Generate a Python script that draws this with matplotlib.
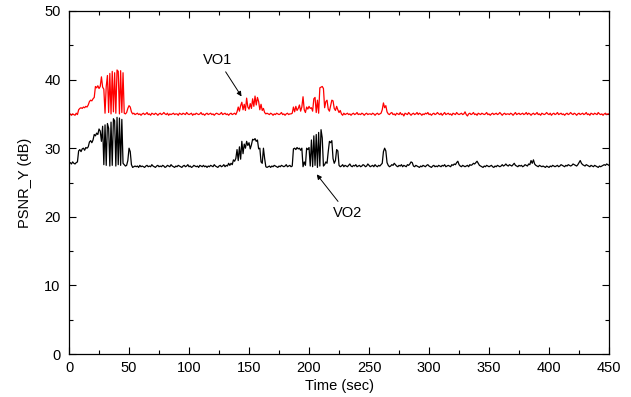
import numpy as np
import matplotlib
matplotlib.use("Agg")
import matplotlib.pyplot as plt

plt.rcParams['font.family'] = ['Liberation Sans', 'DejaVu Sans']

# PSNR of the Y component per second, object VO1 (red)
vo1_psnr = [
    34.9, 35.0, 34.8, 35.0, 34.9, 34.8, 35.1, 34.9, 35.6, 35.8,
    35.9, 35.8, 36.0, 35.9, 36.1, 36.0, 36.3, 36.8, 37.0, 36.9,
    37.2, 37.4, 39.0, 38.8, 39.1, 38.7, 39.0, 40.4, 38.9, 38.6,
    35.1, 39.0, 40.6, 35.2, 40.9, 35.0, 41.2, 35.3, 41.0, 35.1,
    41.4, 41.2, 35.0, 41.3, 35.2, 41.0, 35.1, 35.0, 35.2, 35.8,
    36.2, 36.0, 35.3, 35.0, 35.1, 34.9,
    35.0, 35.1, 34.9, 35.0, 34.8, 35.0, 35.1, 34.9, 35.0, 35.2,
    34.9, 35.0, 34.8, 35.1, 35.0, 34.9, 35.1, 35.0, 34.8, 35.0,
    35.1, 34.9, 35.0, 35.2, 35.0, 34.9, 35.1, 34.8, 35.0, 34.9,
    35.0, 35.1, 34.9, 35.0, 35.0, 34.8, 35.1, 35.0, 34.9, 35.1,
    35.0, 34.9, 35.2, 35.0, 34.9, 35.0, 35.1, 34.8, 35.0, 34.9,
    35.1, 35.0, 34.9, 35.0, 35.2, 34.9, 35.0, 34.8, 35.0, 35.1,
    34.9, 35.0, 35.1, 34.9, 35.0, 34.8, 35.0, 35.1, 35.0, 34.9,
    35.0, 35.2, 34.9, 35.0, 35.1, 34.9, 35.0, 34.8, 35.0, 35.1,
    34.9, 35.0, 35.1, 34.9,
    35.3, 36.0, 35.4, 36.2, 36.7, 35.6, 36.4, 35.5, 37.3, 36.0,
    35.7, 36.5, 35.8, 37.2, 36.1, 37.6, 36.3, 37.4, 36.8, 35.6,
    36.4, 35.5, 35.8, 35.2, 35.0, 35.1,
    35.0, 34.9, 35.1, 35.0, 34.8, 35.0, 34.9, 35.1, 35.0, 34.9,
    35.0, 35.2, 34.9, 35.0, 34.8, 35.0, 35.1, 34.9, 35.0, 35.0,
    35.1, 36.0, 35.3, 36.1, 35.5, 35.8, 36.3, 35.4, 36.0, 37.5,
    35.6, 35.2, 36.0, 35.7, 36.1, 35.8, 35.9, 35.4, 37.2, 37.4,
    35.2, 37.0, 35.1, 38.8, 38.9, 39.0, 38.7, 35.9, 36.8, 37.0,
    35.7, 35.4, 36.2, 37.0, 36.9, 35.8, 35.5, 36.1, 35.6, 35.2,
    35.5, 35.0, 34.8, 35.1, 34.9,
    35.0, 35.1, 34.9, 35.0, 34.8, 35.0, 35.1, 34.9, 35.0, 35.2,
    34.9, 35.0, 34.9, 35.1, 35.0, 34.8, 35.0, 35.1, 34.9, 35.0,
    35.0, 34.9, 35.1, 35.0, 34.8, 35.0, 35.1, 34.9, 35.0, 35.1,
    35.6, 36.6, 35.9, 36.2, 35.3,
    35.0, 34.9, 35.1, 35.2, 34.9, 35.0, 34.8, 35.1, 35.0, 34.9,
    35.2, 34.9, 35.0, 34.7, 35.1, 35.0, 34.9, 35.2, 35.0, 34.8,
    35.0, 35.1, 34.9, 35.0, 35.2, 34.9, 35.1, 35.0, 34.8, 35.0,
    34.9, 35.1, 35.0, 35.2, 34.9, 35.0, 34.8, 35.0, 35.1, 34.9,
    35.0, 35.2, 35.0, 34.9, 35.1, 34.8, 35.0, 35.2, 34.9, 35.0,
    35.1, 34.9, 35.0, 34.8, 35.1, 35.0, 34.9, 35.2, 35.0, 34.9,
    35.0, 35.1, 34.9, 35.0, 35.3, 34.9, 34.7, 35.0, 35.1, 34.9,
    35.0, 35.2, 34.9, 35.0, 34.8, 35.1, 35.0, 34.9, 35.1, 35.0,
    34.9, 35.0, 35.2, 34.9, 35.0, 34.8, 35.0, 35.1, 34.9, 35.0,
    35.1, 34.9, 35.0, 35.2, 35.0, 34.8, 35.0, 35.1, 34.9, 35.0,
    35.0, 34.9, 35.1, 35.0, 34.8, 35.0, 35.2, 34.9, 35.0, 35.1,
    34.9, 35.0, 35.1, 34.9, 35.0, 35.2, 34.9, 35.1, 35.0, 34.8,
    35.0, 35.1, 34.9, 35.0, 35.2, 34.9, 35.0, 34.8, 35.1, 35.0,
    34.9, 35.0, 35.2, 35.0, 34.9, 35.1, 34.8, 35.0, 35.1, 34.9,
    35.0, 35.2, 34.9, 35.0, 35.1, 34.9, 35.0, 34.8, 35.0, 35.1,
    34.9, 35.0, 35.2, 35.0, 34.9, 35.1, 35.0, 34.8, 35.0, 35.1,
    34.9, 35.0, 35.1, 34.9, 35.0, 35.2, 34.9, 35.0, 34.8, 35.1,
    35.0, 34.9, 35.1, 35.0, 34.9, 35.2, 35.0, 34.9, 35.0, 34.8,
    35.0, 35.1, 34.9, 35.0, 35.0,
]

# same for object VO2 (black)
vo2_psnr = [
    27.8, 27.9, 27.7, 28.0, 27.8, 27.7, 27.9, 28.0, 29.6, 29.8,
    29.5, 29.9, 30.0, 29.7, 30.1, 30.0, 30.2, 30.9, 31.1, 30.8,
    31.2, 32.0, 31.8, 32.2, 32.0, 32.8, 32.5, 31.0, 33.2, 27.6,
    33.4, 27.5, 33.6, 32.9, 27.4, 33.8, 27.5, 34.3, 34.0, 27.4,
    34.5, 27.6, 34.4, 27.5, 34.2, 27.8, 27.6, 27.4, 27.5, 28.2,
    30.0, 29.5, 27.6, 27.2, 27.3, 27.4,
    27.3, 27.4, 27.2, 27.5, 27.3, 27.4, 27.3, 27.2, 27.4, 27.5,
    27.3, 27.4, 27.3, 27.6, 27.4, 27.3, 27.2, 27.4, 27.5, 27.3,
    27.4, 27.3, 27.5, 27.4, 27.2, 27.3, 27.5, 27.4, 27.3, 27.6,
    27.4, 27.3, 27.2, 27.4, 27.3, 27.5, 27.4, 27.3, 27.2, 27.4,
    27.5, 27.3, 27.4, 27.6, 27.3, 27.4, 27.2, 27.3, 27.5, 27.4,
    27.3, 27.4, 27.2, 27.5, 27.4, 27.3, 27.5, 27.3, 27.4, 27.2,
    27.4, 27.3, 27.5, 27.4, 27.3, 27.6, 27.4, 27.3, 27.2, 27.4,
    27.5, 27.3, 27.4, 27.6, 27.3, 27.5, 27.4, 27.8,
    27.5, 27.8, 27.6, 28.3, 28.1, 28.5, 29.8, 28.2, 30.2, 28.4,
    31.0, 29.2, 30.6, 30.0, 31.0, 30.4, 30.8, 29.9, 30.5, 31.3,
    31.2, 31.4, 31.0, 31.2, 29.9, 30.0, 28.0, 27.8, 30.0, 28.5,
    27.3, 27.2,
    27.3, 27.4, 27.2, 27.4, 27.3, 27.5, 27.4, 27.3, 27.2, 27.4,
    27.3, 27.5, 27.4, 27.3, 27.4, 27.6, 27.3, 27.4, 27.5, 27.3,
    27.4, 29.9, 30.0, 29.8, 30.1, 29.9, 30.0, 29.7, 30.0, 27.3,
    28.0, 27.5, 30.0, 29.8, 30.1, 27.4, 31.2, 27.3, 31.8, 27.5,
    32.0, 27.2, 32.3, 27.4, 32.7, 31.5, 27.4, 27.6, 28.0, 27.8,
    29.5, 31.0, 30.8, 31.1, 28.5, 27.8, 28.2, 29.8, 29.6, 27.5,
    27.3,
    27.4, 27.6, 27.3, 27.5, 27.4, 27.3, 27.5, 27.7, 27.4, 27.3,
    27.5, 27.4, 27.6, 27.3, 27.4, 27.5, 27.3, 27.4, 27.6, 27.5,
    27.3, 27.4, 27.7, 27.5, 27.3, 27.4, 27.5, 27.3, 27.6, 27.4,
    27.3, 27.5, 27.4, 27.6,
    27.8, 29.5, 30.0, 29.6, 27.9,
    27.5, 27.3, 27.4, 27.6, 27.5, 27.8, 27.6, 27.4, 27.3, 27.5,
    27.4, 27.6, 27.3, 27.5, 27.4, 27.3, 27.6, 27.5, 27.7, 28.0,
    27.9, 27.4, 27.3, 27.5, 27.4, 27.3, 27.2, 27.4, 27.3, 27.5,
    27.4, 27.3, 27.5, 27.6, 27.4, 27.3, 27.2, 27.4, 27.5, 27.3,
    27.4, 27.3, 27.5, 27.4, 27.3, 27.5, 27.4, 27.6, 27.3, 27.4,
    27.5, 27.4, 27.3, 27.6, 27.5, 27.7, 27.6, 27.9, 28.1, 27.6,
    27.4, 27.3, 27.5, 27.4, 27.3, 27.4, 27.5, 27.3, 27.6, 27.5,
    27.6, 27.8, 27.7, 27.9, 28.1, 27.8, 27.5, 27.4, 27.3, 27.2,
    27.4, 27.3, 27.5, 27.4, 27.3, 27.4, 27.5, 27.3, 27.2, 27.4,
    27.3, 27.5, 27.4, 27.3, 27.4, 27.6, 27.4, 27.5, 27.7, 27.5,
    27.4, 27.6, 27.5, 27.4, 27.6, 27.8, 27.5, 27.4, 27.3, 27.5,
    27.4, 27.5, 27.3, 27.4, 27.6, 27.5, 27.4, 27.7, 27.6, 28.2,
    27.8, 28.3, 27.7, 27.5, 27.4, 27.3, 27.5, 27.4, 27.3, 27.4,
    27.3, 27.2, 27.4, 27.3, 27.2, 27.4, 27.3, 27.5, 27.4, 27.3,
    27.4, 27.5, 27.3, 27.4, 27.6, 27.5, 27.4, 27.3, 27.5, 27.4,
    27.6, 27.5, 27.4, 27.5, 27.7, 27.6, 27.5, 27.4, 27.6, 27.9,
    28.2, 27.8, 27.6, 27.5, 27.4, 27.6, 27.5, 27.4, 27.3, 27.5,
    27.4, 27.3, 27.5, 27.4, 27.3, 27.2, 27.4, 27.3, 27.4, 27.5,
    27.6, 27.5, 27.7, 27.6, 27.5,
]

t1 = np.arange(len(vo1_psnr))
t2 = np.arange(len(vo2_psnr))

fig = plt.figure(figsize=(6.31, 3.97), dpi=100)
ax = fig.add_axes([0.1094, 0.1083, 0.8558, 0.864])

ax.plot(t1, vo1_psnr, color='red', lw=0.9)
ax.plot(t2, vo2_psnr, color='black', lw=0.9)

ax.set_xlim(0, 450)
ax.set_ylim(0, 50)
ax.set_xticks(np.arange(0, 451, 50))
ax.set_xticks(np.arange(25, 450, 50), minor=True)
ax.set_yticks(np.arange(0, 51, 10))
ax.set_yticks(np.arange(5, 50, 10), minor=True)
ax.tick_params(which='both', direction='in', top=True, right=True,
               labelsize=10.5, width=0.8)
ax.tick_params(which='major', length=5)
ax.tick_params(which='minor', length=3)
ax.tick_params(axis='y', pad=6)
ax.tick_params(axis='x', pad=5)
for s in ax.spines.values():
    s.set_linewidth(0.9)

ax.set_xlabel('Time (sec)', fontsize=10.5, labelpad=3)
ax.set_ylabel('PSNR_Y (dB)', fontsize=10.5, labelpad=9)

arrow = dict(arrowstyle='-|>', color='black', lw=0.7, mutation_scale=7)
ax.annotate('VO1', xy=(145, 37.2), xytext=(124, 42.9), fontsize=10.5,
            ha='center', va='center', arrowprops=arrow)
ax.annotate('VO2', xy=(205, 26.5), xytext=(232, 20.5), fontsize=10.5,
            ha='center', va='center', arrowprops=arrow)

fig.savefig('out.png', dpi=100)
